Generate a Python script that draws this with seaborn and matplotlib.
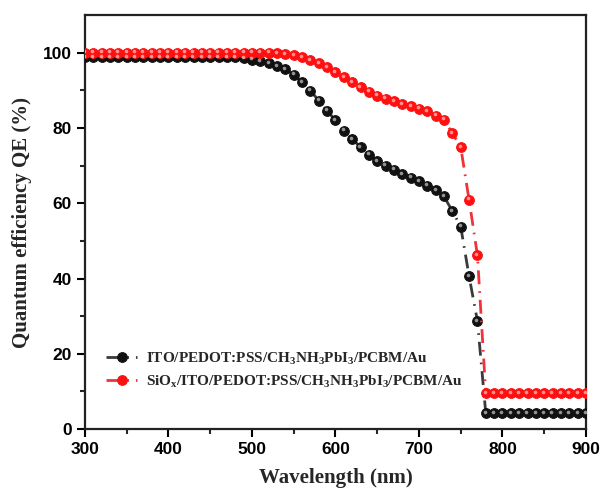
import matplotlib
matplotlib.use("Agg")
import matplotlib.pyplot as plt
import matplotlib.transforms as mtransforms
import seaborn as sns
import pandas as pd

# wavelength grid (nm) and QE values
wavelength = list(range(300, 910, 10))

qe_ito = ([98.8] * 19 +
          [98.6, 98.2, 97.8, 97.2, 96.5, 95.6, 94.2, 92.1, 89.9, 87.3, 84.6,
           82.0, 79.3, 77.1, 74.9, 72.9, 71.2, 70.0, 68.9, 67.8, 66.8, 65.8,
           64.7, 63.4, 61.8, 57.9, 53.8, 40.6, 28.7] +
          [4.2] * 13)

qe_siox = ([100.0] * 23 +
           [99.9, 99.6, 99.3, 98.9, 98.1, 97.2, 96.1, 94.8, 93.5, 92.1, 90.8,
            89.7, 88.6, 87.8, 87.1, 86.4, 85.8, 85.1, 84.4, 83.3, 82.2, 78.6,
            74.9, 60.9, 46.2] +
           [9.5] * 13)

labels = [r"ITO/PEDOT:PSS/CH$_\mathrm{3}$NH$_\mathrm{3}$PbI$_\mathrm{3}$/PCBM/Au",
          r"SiO$_\mathrm{x}$/ITO/PEDOT:PSS/CH$_\mathrm{3}$NH$_\mathrm{3}$PbI$_\mathrm{3}$/PCBM/Au"]

df = pd.DataFrame({"wavelength": wavelength * 2,
                   "qe": qe_ito + qe_siox,
                   "device": [labels[0]] * len(wavelength) + [labels[1]] * len(wavelength)})

sns.set_style("ticks")
plt.rcParams["font.family"] = ["Liberation Sans", "DejaVu Sans"]
plt.rcParams["mathtext.fontset"] = "custom"
plt.rcParams["mathtext.rm"] = "Liberation Serif:bold"
plt.rcParams["mathtext.it"] = "Liberation Serif:bold"
plt.rcParams["mathtext.bf"] = "Liberation Serif:bold"

fig = plt.figure(figsize=(6.01, 4.88), dpi=100)
ax = fig.add_axes([0.1414, 0.1209, 0.975 - 0.1414, 0.969 - 0.1209])

line_cols = ["#3a3a3a", "#f0333a"]
face_cols = ["#111111", "#ff1010"]
for lab, lc, fc in zip(labels, line_cols, face_cols):
    sub = df[df["device"] == lab]
    sns.lineplot(data=sub, x="wavelength", y="qe", ax=ax, color=lc, lw=2,
                 marker="o", markersize=7, markerfacecolor=fc,
                 markeredgecolor=fc, dashes=False, label=lab, zorder=3)
    ax.lines[-1].set_linestyle((0, (5, 2.5, 0.6, 2.5)))
    # highlight to give the spheres a shaded look
    hl = mtransforms.offset_copy(ax.transData, fig=fig, x=-0.8, y=1.0, units="points")
    ax.plot(sub["wavelength"], sub["qe"], ls="none", marker="o", markersize=2.6,
            markerfacecolor="white", markeredgecolor="none", alpha=0.55,
            transform=hl, zorder=4)

ax.set_xlim(300, 900)
ax.set_ylim(0, 110)
ax.set_xticks(range(300, 901, 100))
ax.set_xticks(range(350, 900, 100), minor=True)
ax.set_yticks(range(0, 101, 20))
ax.set_yticks(range(10, 100, 20), minor=True)
ax.tick_params(axis="both", which="major", direction="out", length=6, width=1.5,
               labelsize=12.5, colors="black")
ax.tick_params(axis="both", which="minor", direction="out", length=3.5, width=1.5)
for lbl in ax.get_xticklabels() + ax.get_yticklabels():
    lbl.set_fontweight("bold")
for sp in ax.spines.values():
    sp.set_linewidth(1.6)
    sp.set_color("#222222")

ax.set_xlabel("Wavelength (nm)", fontsize=15, fontweight="bold",
              family="Liberation Serif", labelpad=8)
ax.set_ylabel("Quantum efficiency QE (%)", fontsize=15, fontweight="bold",
              family="Liberation Serif", labelpad=8)

leg = ax.legend(loc="lower left", bbox_to_anchor=(0.015, 0.062), frameon=False,
                handlelength=2.0, handletextpad=0.6, labelspacing=0.45,
                prop={"family": "Liberation Serif", "weight": "bold", "size": 11})

fig.savefig("out.png", dpi=100)
